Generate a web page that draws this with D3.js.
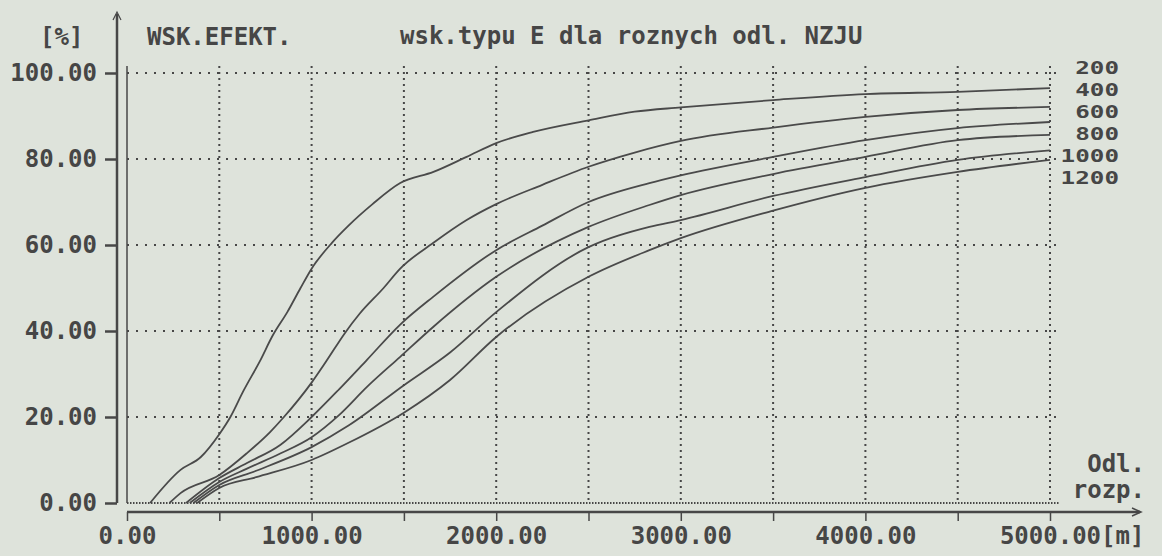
<!DOCTYPE html>
<html>
<head>
<meta charset="utf-8">
<script src="https://cdn.jsdelivr.net/npm/d3@7"></script>
<style>
  html, body { margin: 0; padding: 0; background: #dee3db; }
  svg { display: block; }
  text { font-family: "DejaVu Sans Mono", "Liberation Mono", monospace; font-weight: bold; fill: #464646; }
</style>
</head>
<body>
<svg id="chart" width="1162" height="556"></svg>
<script>
// ---- data ----
const seriesNames = ["200", "400", "600", "800", "1000", "1200"];
const xTickValues = [0, 500, 1000, 1500, 2000, 2500, 3000, 3500, 4000, 4500, 5000];
const xLabelValues = [0, 1000, 2000, 3000, 4000, 5000];
const yTickValues = [0, 20, 40, 60, 80, 100];
const titleMain = "wsk.typu E dla roznych odl. NZJU";
const titleLeft = "WSK.EFEKT.";
const yUnit = "[%]";
const xUnit = "[m]";
const xAxisName = ["Odl.", "rozp."];

const odl200 = [[125,0],[290,7.7],[400,10.7],[500,16],[560,20],[630,26],[720,33],[790,39],[870,44.5],[940,50],[1000,54.5],[1110,60.5],[1200,64.5],[1330,69.5],[1480,74.4],[1660,77],[1840,80.5],[2000,83.7],[2200,86.3],[2500,89],[2750,91],[3000,92],[3500,93.7],[4000,95.1],[4500,95.6],[5000,96.5]];
const odl400 = [[230,0],[290,2.3],[500,6.5],[650,11.6],[775,16.5],[850,20],[1000,28],[1080,33],[1180,39.5],[1260,44],[1390,50],[1480,54.5],[1660,60.5],[1840,65.8],[2000,69.5],[2250,74],[2500,78.2],[2750,81.5],[3000,84.2],[3500,87.3],[4000,89.8],[4500,91.4],[5000,92.1]];
const odl600 = [[320,0],[500,5.8],[650,9.3],[830,13.5],[1000,20],[1150,26.5],[1300,33.3],[1480,41.5],[1660,48],[2000,58.8],[2250,64.5],[2500,70],[2830,74.4],[3000,76.2],[3500,80.5],[4000,84.4],[4500,87.2],[5000,88.6]];
const odl800 = [[340,0],[500,4.9],[650,8],[830,11.5],[1000,15.3],[1150,20.5],[1300,27],[1480,34],[1660,41],[2000,52.6],[2500,64.2],[2830,69.3],[3000,71.6],[3500,76.5],[4000,80.5],[4500,84.4],[5000,85.6]];
const odl1000 = [[360,0],[500,4.2],[700,7.5],[1000,13],[1200,18],[1500,27.4],[1750,35],[2000,44.4],[2500,59.5],[2830,64.2],[3000,65.8],[3500,71.4],[4000,75.8],[4500,79.8],[5000,82]];
const odl1200 = [[380,0],[500,3.5],[700,6],[1000,10],[1200,14],[1500,21],[1750,28.6],[2000,38.6],[2500,52.6],[2830,58.8],[3000,61.6],[3500,68],[4000,73.3],[4500,77],[5000,79.8]];
const seriesData = [odl200, odl400, odl600, odl800, odl1000, odl1200];

// ---- drawing ----
const svg = d3.select("#chart");
const ink = "#474747";
const x = d3.scaleLinear().domain([0, 5000]).range([127, 1050]);
const y = d3.scaleLinear().domain([0, 100]).range([503, 73]);
const gridRight = 1060;

// dotted grid: horizontal
svg.append("g").selectAll("line").data(yTickValues).join("line")
  .attr("x1", x(0)).attr("x2", gridRight)
  .attr("y1", d => y(d)).attr("y2", d => y(d))
  .attr("stroke", ink)
  .attr("stroke-width", 2)
  .attr("stroke-dasharray", d => d === 0 ? "1.5,1.5" : "2,7");
// dotted grid: vertical
svg.append("g").selectAll("line").data(xTickValues.filter(d => d > 0)).join("line")
  .attr("x1", d => x(d)).attr("x2", d => x(d))
  .attr("y1", y(100) - 7).attr("y2", y(0))
  .attr("stroke", ink)
  .attr("stroke-width", 2)
  .attr("stroke-dasharray", "2,4");

// plot left border (solid)
svg.append("line").attr("x1", x(0)).attr("x2", x(0)).attr("y1", y(100) - 7).attr("y2", y(0))
  .attr("stroke", ink).attr("stroke-width", 1.5);

// y axis
const yAxisX = 117;
const yAxis = d3.axisLeft(y).tickValues(yTickValues).tickSize(12).tickPadding(8)
  .tickFormat(d => d3.format(".2f")(d));
const gy = svg.append("g").attr("transform", `translate(${yAxisX},0)`).call(yAxis);
gy.select(".domain").remove();
gy.selectAll(".tick line").attr("stroke", ink).attr("stroke-width", 2.5);
gy.selectAll(".tick text").style("font-size", "24px").attr("fill", ink);
svg.append("line").attr("x1", yAxisX).attr("x2", yAxisX).attr("y1", 14).attr("y2", y(0))
  .attr("stroke", ink).attr("stroke-width", 2.5);
svg.append("path").attr("d", `M${yAxisX-4},20 L${yAxisX},12 L${yAxisX+4},20`)
  .attr("fill", "none").attr("stroke", ink).attr("stroke-width", 1.2);

// x axis
const xAxisY = 512;
const xAxis = d3.axisBottom(x).tickValues(xTickValues).tickSize(9).tickPadding(6)
  .tickFormat(d => xLabelValues.includes(d) ? d3.format(".2f")(d) : "");
const gx = svg.append("g").attr("transform", `translate(0,${xAxisY})`).call(xAxis);
gx.select(".domain").remove();
gx.selectAll(".tick line").attr("stroke", ink).attr("stroke-width", 1.5);
gx.selectAll(".tick text").style("font-size", "24px").attr("fill", ink);
svg.append("line").attr("x1", x(0)).attr("x2", 1140).attr("y1", xAxisY).attr("y2", xAxisY)
  .attr("stroke", ink).attr("stroke-width", 2.5);
svg.append("path").attr("d", `M1132,${xAxisY-4} L1141,${xAxisY} L1132,${xAxisY+4}`)
  .attr("fill", "none").attr("stroke", ink).attr("stroke-width", 1.5);
svg.append("text").attr("x", x(5000) + 51).attr("y", xAxisY + 15).attr("dy", "0.71em")
  .style("font-size", "24px").text(xUnit);

// curves
const line = d3.line().x(d => x(d[0])).y(d => y(d[1])).curve(d3.curveMonotoneX);
svg.append("g").selectAll("path").data(seriesData).join("path")
  .attr("d", line)
  .attr("fill", "none")
  .attr("stroke", "#4a4a4a")
  .attr("stroke-width", 1.8);

// legend (right side labels, stacked tightly as in the printout)
svg.append("g").selectAll("text").data(seriesNames).join("text")
  .attr("x", 1119).attr("y", (d, i) => 68 + i * 21.9)
  .attr("dy", "0.36em")
  .attr("text-anchor", "end")
  .attr("textLength", d => d.length * 14.6)
  .attr("lengthAdjust", "spacingAndGlyphs")
  .style("font-size", "18px")
  .text(d => d);

// titles
svg.append("text").attr("x", 40).attr("y", 36).attr("dy", "0.36em").style("font-size", "24px").text(yUnit);
svg.append("text").attr("x", 147).attr("y", 36).attr("dy", "0.36em").style("font-size", "24px").text(titleLeft);
svg.append("text").attr("x", 400).attr("y", 35).attr("dy", "0.36em").style("font-size", "24px").text(titleMain);
svg.append("text").attr("x", 1145).attr("y", 463).attr("dy", "0.36em").attr("text-anchor", "end").style("font-size", "24px").text(xAxisName[0]);
svg.append("text").attr("x", 1145).attr("y", 489).attr("dy", "0.36em").attr("text-anchor", "end").style("font-size", "24px").text(xAxisName[1]);
</script>
</body>
</html>
